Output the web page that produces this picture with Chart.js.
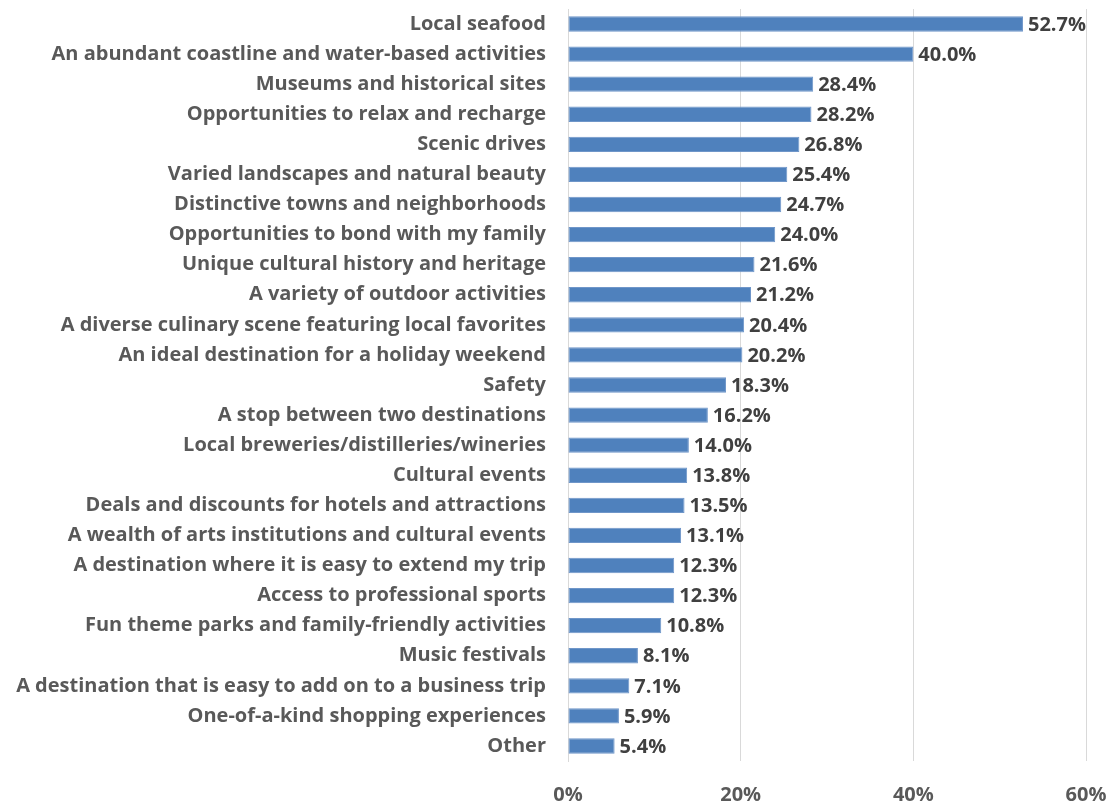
<!DOCTYPE html>
<html>
<head>
<meta charset="utf-8">
<script src="https://cdn.jsdelivr.net/npm/chart.js@4.4.1/dist/chart.umd.min.js"></script>
<style>
  html, body { margin: 0; padding: 0; background: #ffffff; }
  #wrap { width: 1107px; height: 801px; }
</style>
</head>
<body>
<div id="wrap"><canvas id="chart"></canvas></div>
<script>
// Survey answers, listed top to bottom
const categories = [
    "Local seafood",
    "An abundant coastline and water-based activities",
    "Museums and historical sites",
    "Opportunities to relax and recharge",
    "Scenic drives",
    "Varied landscapes and natural beauty",
    "Distinctive towns and neighborhoods",
    "Opportunities to bond with my family",
    "Unique cultural history and heritage",
    "A variety of outdoor activities",
    "A diverse culinary scene featuring local favorites",
    "An ideal destination for a holiday weekend",
    "Safety",
    "A stop between two destinations",
    "Local breweries/distilleries/wineries",
    "Cultural events",
    "Deals and discounts for hotels and attractions",
    "A wealth of arts institutions and cultural events",
    "A destination where it is easy to extend my trip",
    "Access to professional sports",
    "Fun theme parks and family-friendly activities",
    "Music festivals",
    "A destination that is easy to add on to a business trip",
    "One-of-a-kind shopping experiences",
    "Other"
];

// Share of respondents, percent
const values = [52.7, 40.0, 28.4, 28.2, 26.8, 25.4, 24.7, 24.0, 21.6, 21.2, 20.4, 20.2,
    18.3, 16.2, 14.0, 13.8, 13.5, 13.1, 12.3, 12.3, 10.8, 8.1, 7.1, 5.9, 5.4];

// x axis ticks
const xTicks = [0, 20, 40, 60];

const FONT = "'Open Sans', Lato, sans-serif";

// writes "52.7%" just past the end of each bar
const valueLabels = {
    id: "valueLabels",
    afterDatasetsDraw(chart) {
        const ctx = chart.ctx;
        const meta = chart.getDatasetMeta(0);
        ctx.save();
        ctx.font = "bold 20px " + FONT;
        ctx.fillStyle = "#404040";
        ctx.textAlign = "left";
        ctx.textBaseline = "middle";
        meta.data.forEach((bar, i) => {
            ctx.fillText(values[i].toFixed(1) + "%", bar.x + 5, bar.y + 1);
        });
        ctx.restore();
    }
};

const ctx = document.getElementById("chart").getContext("2d");
new Chart(ctx, {
    type: "bar",
    data: {
        labels: categories,
        datasets: [{
            data: values,
            backgroundColor: "#4F81BD",
            borderColor: "#6f96c9",
            borderWidth: 1,
            borderSkipped: false,
            barPercentage: 0.51,
            categoryPercentage: 1.0
        }]
    },
    options: {
        indexAxis: "y",
        responsive: true,
        maintainAspectRatio: false,
        animation: false,
        layout: { padding: { top: 9, left: 0, right: 21, bottom: 0 } },
        plugins: {
            legend: { display: false },
            tooltip: { enabled: false }
        },
        scales: {
            x: {
                min: 0,
                max: 60,
                afterBuildTicks: (scale) => {
                    scale.ticks = xTicks.map(v => ({ value: v }));
                },
                afterFit: (scale) => {
                    scale.height = 40;
                    scale.paddingLeft = 0;
                    scale.paddingRight = 0;
                },
                grid: {
                    color: "#d9d9d9",
                    lineWidth: 1,
                    drawTicks: false
                },
                border: { display: false },
                ticks: {
                    padding: 22,
                    color: "#595959",
                    font: { family: FONT, size: 20, weight: "bold" },
                    callback: (v) => v + "%"
                }
            },
            y: {
                afterFit: (scale) => {
                    scale.width = 568;
                    scale.paddingTop = 0;
                    scale.paddingBottom = 0;
                },
                grid: { display: false, drawTicks: false },
                border: { display: true, color: "#d9d9d9", width: 1 },
                ticks: {
                    padding: 22,
                    color: "#595959",
                    autoSkip: false,
                    font: { family: FONT, size: 20, weight: "bold" }
                }
            }
        }
    },
    plugins: [valueLabels]
});
</script>
</body>
</html>
